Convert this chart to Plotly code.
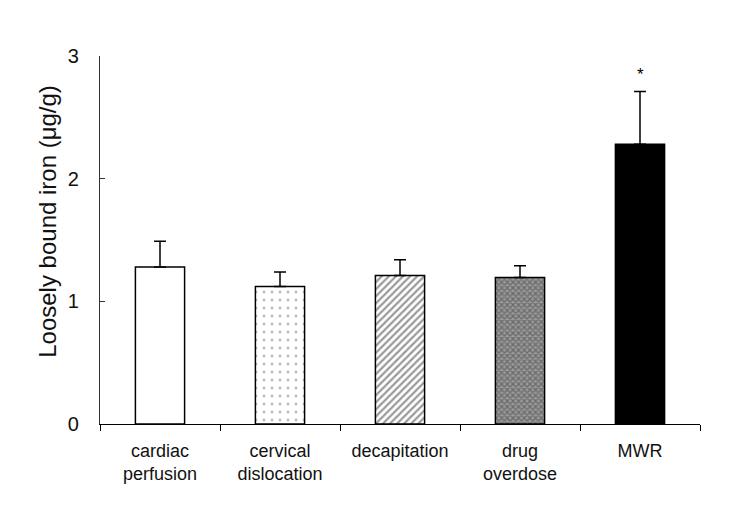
import plotly.graph_objects as go

categories = ["cardiac<br>perfusion", "cervical<br>dislocation", "decapitation", "drug<br>overdose", "MWR"]
means = [1.28, 1.12, 1.21, 1.195, 2.28]
errors = [0.21, 0.12, 0.13, 0.095, 0.43]
y_ticks = [0, 1, 2, 3]
star_label = "*"
y_title = "Loosely bound iron (μg/g)"

patterns = [
    dict(shape="", fillmode="replace"),
    dict(shape=".", fgcolor="#777777", bgcolor="white", size=8, solidity=0.1),
    dict(shape="/", fgcolor="#333333", bgcolor="white", size=5, solidity=0.45),
    dict(shape="x", fgcolor="#3a3a3a", bgcolor="#999999", size=4, solidity=0.5),
    dict(shape="", fillmode="replace"),
]
fills = ["white", "white", "white", "#808080", "black"]

fig = go.Figure()
for i, cat in enumerate(categories):
    fig.add_trace(go.Bar(
        x=[cat], y=[means[i]],
        width=0.41,
        marker=dict(color=fills[i], line=dict(color="black", width=1.5),
                    pattern=patterns[i]),
        error_y=dict(type="data", array=[errors[i]], arrayminus=[0],
                     symmetric=False, color="black", thickness=1.5, width=6),
        showlegend=False,
    ))

fig.add_annotation(x=categories[4], y=means[4] + errors[4], yshift=17,
                   text=star_label, showarrow=False,
                   font=dict(size=17, color="black", family="Liberation Sans, Arial"))

fig.add_annotation(xref="paper", yref="paper", x=-0.088, y=0.55,
                   text=y_title, textangle=-90, showarrow=False,
                   xanchor="center", yanchor="middle",
                   font=dict(size=24, color="#111111", family="Liberation Sans, Arial"))

fig.update_layout(
    width=750, height=522,
    margin=dict(l=92, r=58, t=48, b=106),
    plot_bgcolor="white", paper_bgcolor="white",
    font=dict(family="Liberation Sans, Arial", color="black"),
)
fig.update_xaxes(
    type="category", range=[-0.5, 4.5],
    showline=True, linecolor="black", linewidth=1.2,
    ticks="outside", ticklen=6, tickcolor="black", tickson="boundaries",
    tickfont=dict(size=18, color="#111111"),
    ticklabelstandoff=10,
    showgrid=False, zeroline=False,
)
fig.update_yaxes(
    range=[0, 3], tickvals=y_ticks,
    showline=True, linecolor="#333333", linewidth=1.2,
    ticks="inside", ticklen=5, tickcolor="#333333",
    tickfont=dict(size=20, color="#111111"),
    ticklabelstandoff=16,
    showgrid=False, zeroline=False,
)

fig.write_html("out.html")
